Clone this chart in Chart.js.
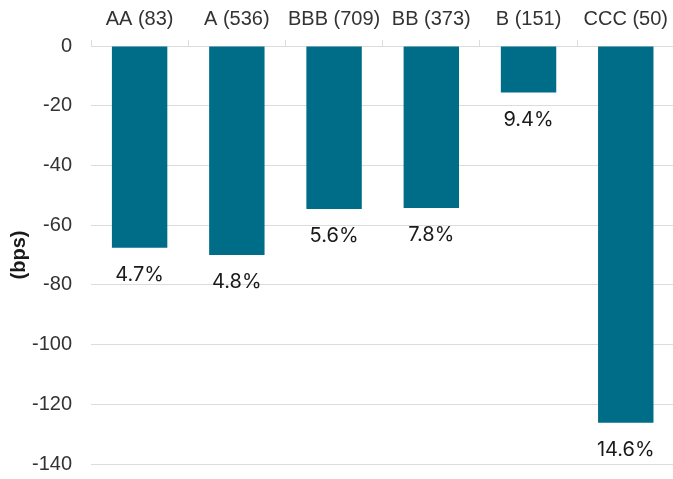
<!DOCTYPE html>
<html>
<head>
    <title>Spread change by rating</title>
    <script src="https://cdn.jsdelivr.net/npm/chart.js"></script>
    <style>
        html, body { margin: 0; padding: 0; overflow: hidden; background: #fff; }
        #wrap { width: 677px; height: 479px; }
    </style>
</head>
<body>
    <div id="wrap"><canvas id="spreadChart"></canvas></div>

    <script>
        // data
        const ratings = ['AA (83)', 'A (536)', 'BBB (709)', 'BB (373)', 'B (151)', 'CCC (50)'];
        const spreadChange = [-67.6, -70.0, -54.6, -54.3, -15.6, -126.2];
        const pctLabels = ['4.7%', '4.8%', '5.6%', '7.8%', '9.4%', '14.6%'];
        const yTicks = [0, -20, -40, -60, -80, -100, -120, -140];

        // labels under each bar
        const barLabels = {
            id: 'barLabels',
            afterDatasetsDraw(chart) {
                const ctx = chart.ctx;
                const meta = chart.getDatasetMeta(0);
                ctx.save();
                ctx.font = '20px Inter, "Noto Sans", sans-serif';
                ctx.fillStyle = '#1a1a1a';
                ctx.textAlign = 'center';
                ctx.textBaseline = 'middle';
                meta.data.forEach((bar, i) => {
                    ctx.fillText(pctLabels[i], bar.x, bar.y + 27);
                });
                ctx.restore();
            }
        };

        const ctx = document.getElementById('spreadChart').getContext('2d');
        const chart = new Chart(ctx, {
            type: 'bar',
            data: {
                labels: ratings,
                datasets: [{
                    data: spreadChange,
                    backgroundColor: '#006d88',
                    barPercentage: 0.57,
                    categoryPercentage: 1.0
                }]
            },
            options: {
                responsive: true,
                maintainAspectRatio: false,
                animation: false,
                layout: { padding: { left: 7, right: 0, top: 0, bottom: 15 } },
                plugins: {
                    legend: { display: false },
                    tooltip: { enabled: false }
                },
                scales: {
                    x: {
                        position: 'top',
                        afterFit(axis) { axis.height = 46; },
                        grid: {
                            offset: true,
                            drawOnChartArea: false,
                            tickLength: 6,
                            color: '#dcdcdc'
                        },
                        border: { display: true, color: '#dcdcdc' },
                        ticks: {
                            color: '#333',
                            padding: 9,
                            maxRotation: 0,
                            font: { family: '"Liberation Sans", Arial, sans-serif', size: 20 }
                        }
                    },
                    y: {
                        min: -140,
                        max: 0,
                        afterFit(axis) {
                            axis.width = 84;
                            axis.paddingTop = 0;
                            axis.paddingBottom = 0;
                        },
                        afterBuildTicks(axis) {
                            axis.ticks = yTicks.map(v => ({ value: v }));
                        },
                        grid: { color: '#dcdcdc', drawTicks: false },
                        border: { display: false },
                        ticks: {
                            color: '#333',
                            padding: 19,
                            font: { family: '"Liberation Sans", Arial, sans-serif', size: 20 }
                        },
                        title: {
                            display: true,
                            text: '(bps)',
                            color: '#1a1a1a',
                            padding: { top: 0, bottom: 0 },
                            font: { family: '"Liberation Sans", Arial, sans-serif', size: 20, weight: 'bold' }
                        }
                    }
                }
            },
            plugins: [barLabels]
        });
    </script>
</body>
</html>
